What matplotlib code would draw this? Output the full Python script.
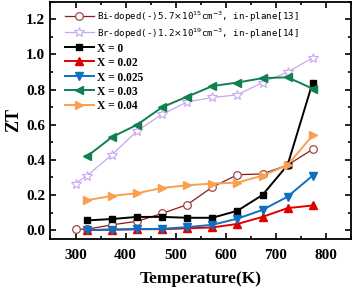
import matplotlib
matplotlib.use('Agg')
import matplotlib.pyplot as plt
from matplotlib.ticker import MultipleLocator, FormatStrFormatter

T_full = [300, 323, 373, 423, 473, 523, 573, 623, 673, 723, 773]
T = [323, 373, 423, 473, 523, 573, 623, 673, 723, 773]

bi_doped = [0.005, 0.005, 0.03, 0.05, 0.095, 0.145, 0.245, 0.315, 0.32, 0.37, 0.46]
br_doped = [0.265, 0.31, 0.43, 0.565, 0.66, 0.73, 0.755, 0.77, 0.84, 0.90, 0.98]
x0 = [0.055, 0.063, 0.075, 0.075, 0.07, 0.07, 0.11, 0.20, 0.37, 0.84]
x002 = [0.0, 0.003, 0.005, 0.005, 0.01, 0.015, 0.035, 0.075, 0.125, 0.14]
x0025 = [0.0, 0.002, 0.005, 0.007, 0.017, 0.03, 0.065, 0.115, 0.19, 0.31]
x003 = [0.42, 0.53, 0.60, 0.70, 0.76, 0.82, 0.84, 0.865, 0.87, 0.805]
x004 = [0.17, 0.195, 0.21, 0.24, 0.255, 0.265, 0.27, 0.31, 0.37, 0.54]

fig = plt.figure(figsize=(3.53, 2.92), dpi=100)
ax = fig.add_axes([0.143, 0.182, 0.852, 0.812])

l1, = ax.plot(T_full, bi_doped, '-o', color='#8B1A1A', lw=0.9, ms=5.5, mfc='white', mec='#A04848', mew=0.9)
l2, = ax.plot(T_full, br_doped, '-*', color='#C8A8F0', lw=0.9, ms=7, mfc='white', mec='#C8A8F0', mew=0.8)
l3, = ax.plot(T, x0, '-s', color='black', lw=1.4, ms=5)
l4, = ax.plot(T, x002, '-^', color='#E00000', lw=1.4, ms=5.5)
l5, = ax.plot(T, x0025, '-v', color='#1070C0', lw=1.4, ms=5.5)
l6, = ax.plot(T, x003, '-<', color='#108050', lw=1.4, ms=5.5)
l7, = ax.plot(T, x004, '->', color='#F8A050', lw=1.4, ms=5.5)

ax.set_xlim(250, 850)
ax.set_ylim(-0.05, 1.3)
ax.xaxis.set_major_locator(MultipleLocator(100))
ax.xaxis.set_minor_locator(MultipleLocator(50))
ax.yaxis.set_major_locator(MultipleLocator(0.2))
ax.yaxis.set_minor_locator(MultipleLocator(0.1))
ax.yaxis.set_major_formatter(FormatStrFormatter('%.1f'))
ax.tick_params(which='both', direction='in', top=True, right=True, width=1.2)
ax.tick_params(which='major', length=4)
ax.tick_params(which='minor', length=2.5)
ax.tick_params(axis='x', pad=7)
ax.tick_params(axis='y', pad=4)
for s in ax.spines.values():
    s.set_linewidth(1.3)
for lab in ax.get_xticklabels() + ax.get_yticklabels():
    lab.set_fontfamily('Liberation Serif')
    lab.set_fontweight('bold')
    lab.set_fontsize(11)

ax.set_xlabel('Temperature(K)', fontfamily='Liberation Serif', fontweight='bold', fontsize=12.5, labelpad=7)
ax.set_ylabel('ZT', fontfamily='Liberation Serif', fontweight='bold', fontsize=13, labelpad=3)

labels = [r'Bi-doped(-)5.7$\times$10$^{15}$cm$^{-3}$, in-plane[13]',
          r'Br-doped(-)1.2$\times$10$^{19}$cm$^{-3}$, in-plane[14]',
          'X = 0', 'X = 0.02', 'X = 0.025', 'X = 0.03', 'X = 0.04']
leg = ax.legend([l1, l2, l3, l4, l5, l6, l7], labels, loc='upper left', frameon=False,
                handlelength=2.1, handletextpad=0.2, labelspacing=0.12,
                borderaxespad=0.2, bbox_to_anchor=(0.02, 1.0))
texts = leg.get_texts()
for t in texts[:2]:
    t.set_fontfamily('DejaVu Sans Mono')
    t.set_fontsize(6.6)
for t in texts[2:]:
    t.set_fontfamily('Liberation Serif')
    t.set_fontweight('bold')
    t.set_fontsize(8.3)

fig.savefig('out.png', dpi=100)
